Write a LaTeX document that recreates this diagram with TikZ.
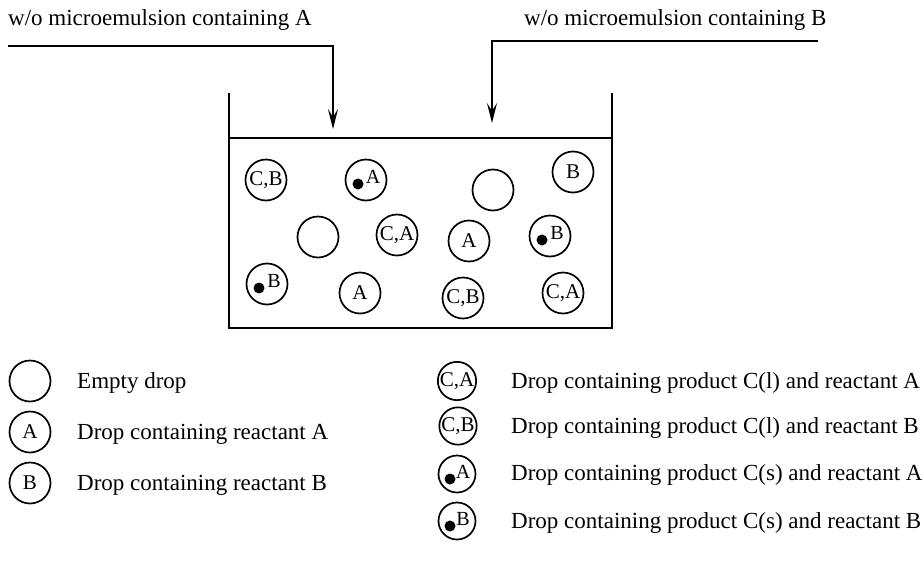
\documentclass[tikz,border=0pt]{standalone}
\usepackage{fontspec}
\setmainfont{Liberation Serif}
\usetikzlibrary{arrows.meta}
\begin{document}
\begin{tikzpicture}[x=1pt,y=-1pt,
  every node/.style={font=\fontsize{23}{27}\selectfont},
  drop/.style={draw,circle,line width=1.7pt,minimum size=41pt,inner sep=0pt,font=\fontsize{21}{21}\selectfont},
  smalldrop/.style={drop,minimum size=37pt},
  dotlbl/.style={inner sep=0pt,font=\fontsize{20}{20}\selectfont},
  feed/.style={line width=1.8pt,-{Stealth[length=20pt,width=10pt,inset=8pt]}},
  wall/.style={line width=1.8pt},
  lbl/.style={anchor=base west,inner sep=0pt}]
\useasboundingbox (0,0) rectangle (922,563);
% feeds
\node[lbl] (tA) at (8,25) {w/o microemulsion containing A};
\node[lbl] (tB) at (524,25) {w/o microemulsion containing B};
\coordinate (sA) at (8,46);
\coordinate (kA) at (333,46);
\coordinate (eA) at (333,129);
\coordinate (sB) at (818,41);
\coordinate (kB) at (492,41);
\coordinate (eB) at (492,123);
\draw[feed] (sA) -- (kA) -- (eA);
\draw[feed] (sB) -- (kB) -- (eB);
% tank
\coordinate (tl) at (229,93);
\coordinate (tr) at (612,93);
\coordinate (bl) at (229,328);
\coordinate (br) at (612,328);
\coordinate (ll) at (229,138);
\coordinate (lr) at (612,138);
\draw[wall] (tl) -- (bl) -- (br) -- (tr);
\draw[wall] (ll) -- (lr);
% drops in tank
\node[drop] (d1) at (266,180) {C,B};
\node[drop] (d2) at (366,180) {};
\node[drop] (d3) at (493,190) {};
\node[drop] (d4) at (573,172) {B};
\node[drop] (d5) at (318,237) {};
\node[drop] (d6) at (397,235) {C,A};
\node[drop] (d7) at (469,241) {A};
\node[drop] (d8) at (550,236) {};
\node[drop] (d9) at (267,284) {};
\node[drop] (d10) at (360,293) {A};
\node[drop] (d11) at (463,298) {C,B};
\node[drop] (d12) at (563,293) {C,A};
\foreach \d/\l in {d2/A,d8/B,d9/B}{
  \fill ([shift={(-8,4)}]\d.center) circle (5.5);
  \node[dotlbl] at ([shift={(7,-3)}]\d.center) {\l};
}
% legend left
\node[drop] (e1) at (30,381) {};
\node[drop] (e2) at (30,432) {A};
\node[drop] (e3) at (30,483) {B};
\node[lbl] (le1) at (77,388) {Empty drop};
\node[lbl] (le2) at (77,439) {Drop containing reactant A};
\node[lbl] (le3) at (77,490) {Drop containing reactant B};
% legend right
\node[smalldrop] (f1) at (457,381) {C,A};
\node[smalldrop] (f2) at (458,426) {C,B};
\node[smalldrop] (f3) at (457,474) {};
\node[smalldrop] (f4) at (457,521) {};
\foreach \d/\l in {f3/A,f4/B}{
  \fill ([shift={(-7,5)}]\d.center) circle (5.5);
  \node[dotlbl] at ([shift={(6,-2)}]\d.center) {\l};
}
\node[lbl] (lf1) at (511,388) {Drop containing product C(l) and reactant A};
\node[lbl] (lf2) at (511,433) {Drop containing product C(l) and reactant B};
\node[lbl] (lf3) at (511,480) {Drop containing product C(s) and reactant A};
\node[lbl] (lf4) at (511,528) {Drop containing product C(s) and reactant B};
\end{tikzpicture}
\end{document}
